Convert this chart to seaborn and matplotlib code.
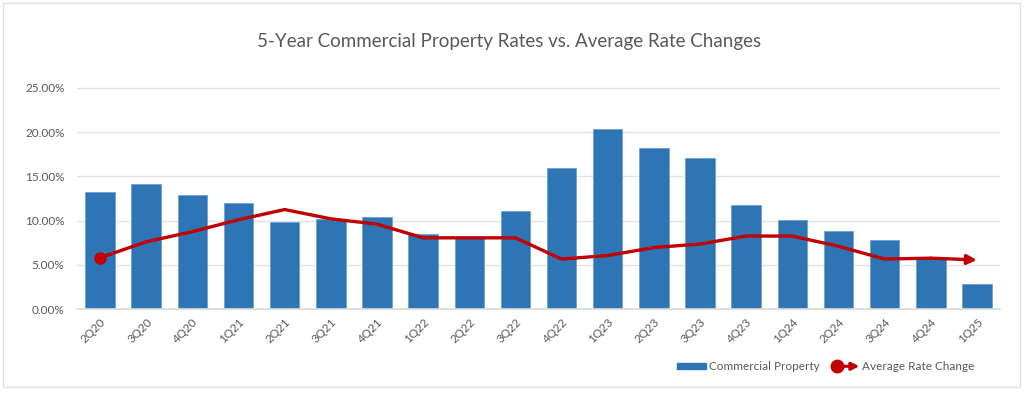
import numpy as np
import pandas as pd
import seaborn as sns
import matplotlib.pyplot as plt
from matplotlib.lines import Line2D
from matplotlib.patches import Patch, FancyArrowPatch
from matplotlib.legend_handler import HandlerBase
from matplotlib.ticker import PercentFormatter

quarters = ["2Q20", "3Q20", "4Q20", "1Q21", "2Q21", "3Q21", "4Q21", "1Q22", "2Q22", "3Q22",
            "4Q22", "1Q23", "2Q23", "3Q23", "4Q23", "1Q24", "2Q24", "3Q24", "4Q24", "1Q25"]
commercial = [13.25, 14.15, 12.85, 11.95, 9.85, 10.2, 10.45, 8.5, 8.0, 11.1,
              15.9, 20.35, 18.25, 17.05, 11.75, 10.05, 8.85, 7.8, 5.9, 2.85]
avg_change = [5.8, 7.6, 8.75, 10.1, 11.25, 10.2, 9.6, 8.05, 8.05, 8.05,
              5.65, 6.05, 6.95, 7.35, 8.25, 8.25, 7.1, 5.65, 5.75, 5.55]

BLUE = "#2E75B6"
RED = "#C00000"
GRAY = "#595959"


class ArrowLineHandler(HandlerBase):
    # legend swatch: dot on the left, arrow head on the right
    def create_artists(self, legend, orig_handle, xdescent, ydescent,
                       width, height, fontsize, trans):
        y = height / 2 - ydescent
        x0, x1 = -xdescent, -xdescent + width
        arrow = FancyArrowPatch((x0 + 3, y), (x1, y), arrowstyle="-|>", mutation_scale=11,
                                color=RED, lw=2.2, transform=trans, shrinkA=0, shrinkB=0)
        dot = Line2D([x0 + 4], [y], marker="o", markersize=9, color=RED, transform=trans)
        return [arrow, dot]


def main():
    df = pd.DataFrame({"quarter": quarters, "commercial": commercial, "avg": avg_change})

    sns.set_theme(style="white")
    plt.rcParams["font.family"] = ["Lato", "DejaVu Sans"]

    fig = plt.figure(figsize=(10.24, 3.93), dpi=100)
    ax = fig.add_axes([77 / 1024, 1 - 309 / 393, (1000 - 77) / 1024, (309 - 88) / 393 * 1.02])

    sns.barplot(data=df, x="quarter", y="commercial", color=BLUE, width=0.64,
                edgecolor="#6FA0D2", linewidth=0.6, saturation=1, ax=ax, zorder=2)

    x = np.arange(len(quarters))
    ax.plot(x[:-1], df["avg"].values[:-1], color=RED, lw=2.4, solid_capstyle="round",
            solid_joinstyle="round", zorder=3)
    ax.plot(x[0], df["avg"].values[0], marker="o", markersize=8, color=RED, zorder=4)
    ax.annotate("", xy=(x[-1], avg_change[-1]), xytext=(x[-2], avg_change[-2]),
                arrowprops=dict(arrowstyle="-|>", color=RED, lw=2.4, mutation_scale=14,
                                shrinkA=0, shrinkB=0), zorder=3)

    ax.set_xlim(-0.5, len(quarters) - 0.5)
    ax.set_ylim(0, 25.5)
    ax.set_yticks([0, 5, 10, 15, 20, 25])
    ax.yaxis.set_major_formatter(PercentFormatter(decimals=2))
    ax.grid(axis="y", color="#E3E3E3", lw=1, zorder=0)
    ax.set_axisbelow(True)
    for s in ["top", "right", "left"]:
        ax.spines[s].set_visible(False)
    ax.spines["bottom"].set_color("#D9D9D9")
    ax.set_xlabel("")
    ax.set_ylabel("")
    ax.tick_params(axis="y", colors=GRAY, labelsize=8.5, length=0, pad=9)
    ax.tick_params(axis="x", colors=GRAY, labelsize=8.5, length=0, pad=5)
    plt.setp(ax.get_xticklabels(), rotation=45, ha="right", rotation_mode="anchor")

    fig.text(0.497, 1 - 42 / 393, "5-Year Commercial Property Rates vs. Average Rate Changes",
             ha="center", va="center", fontsize=13.5, color=GRAY)

    handles = [Patch(color=BLUE), Line2D([], [], color=RED)]
    fig.legend(handles, ["Commercial Property", "Average Rate Change"],
               handler_map={Line2D: ArrowLineHandler()},
               loc="center", bbox_to_anchor=(826 / 1024, 1 - 367 / 393), ncol=2,
               frameon=False, fontsize=8.5, labelcolor=GRAY, handlelength=2.4,
               handleheight=0.45, columnspacing=1.0, handletextpad=0.25)

    fig.patches.append(plt.Rectangle((3 / 1024, 6 / 393), 1017 / 1024, 384 / 393,
                                     transform=fig.transFigure, fill=False,
                                     edgecolor="#E0E0E0", lw=1))

    fig.savefig("out.png", dpi=100)


if __name__ == "__main__":
    main()
